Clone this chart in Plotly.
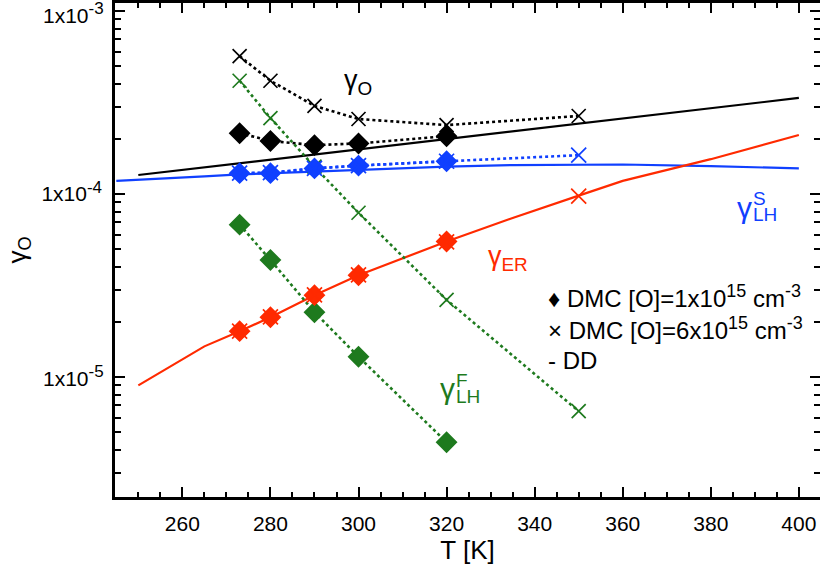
import plotly.graph_objects as go

# ---------------- data ----------------
T_dmc1 = [273, 280, 290, 300, 320]
T_dmc6 = [273, 280, 290, 300, 320, 350]
T_dd = [250, 265, 273, 280, 290, 300, 320, 335, 350, 360, 380, 400]
T_dd_blue = [245, 250, 265, 273, 280, 290, 300, 320, 335, 350, 360, 380, 400]

# gamma_O (black)
gO_dmc1 = [2.15e-4, 1.95e-4, 1.85e-4, 1.89e-4, 2.07e-4]
gO_dmc6 = [5.67e-4, 4.16e-4, 3.03e-4, 2.57e-4, 2.38e-4, 2.67e-4]
gO_dd = [1.27e-4, 1.40e-4, 1.48e-4, 1.54e-4, 1.65e-4, 1.75e-4, 2.0e-4, 2.2e-4, 2.42e-4, 2.58e-4, 2.94e-4, 3.35e-4]

# gamma_LH^F (green)
gF_dmc1 = [6.8e-5, 4.36e-5, 2.26e-5, 1.29e-5, 4.4e-6]
gF_dmc6 = [4.16e-4, 2.6e-4, 1.41e-4, 7.9e-5, 2.64e-5, 6.5e-6]

# gamma_LH^S (blue)
gS_dmc1 = [1.30e-4, 1.30e-4, 1.38e-4, 1.43e-4, 1.51e-4]
gS_dmc6 = [1.30e-4, 1.31e-4, 1.38e-4, 1.43e-4, 1.51e-4, 1.63e-4]
gS_dd = [1.18e-4, 1.20e-4, 1.25e-4, 1.28e-4, 1.30e-4, 1.33e-4, 1.36e-4, 1.41e-4, 1.44e-4, 1.45e-4, 1.45e-4, 1.42e-4, 1.38e-4]

# gamma_ER (red)
gER_dmc1 = [1.78e-5, 2.12e-5, 2.8e-5, 3.6e-5, 5.5e-5]
gER_dmc6 = [1.78e-5, 2.13e-5, 2.81e-5, 3.61e-5, 5.47e-5, 9.75e-5]
gER_dd = [9.0e-6, 1.47e-5, 1.78e-5, 2.12e-5, 2.8e-5, 3.6e-5, 5.5e-5, 7.4e-5, 9.8e-5, 1.18e-4, 1.55e-4, 2.1e-4]

x_ticks = [260, 280, 300, 320, 340, 360, 380, 400]
y_major = [1e-5, 1e-4, 1e-3]
y_exp = ["-5", "-4", "-3"]

BLACK = "#000000"
GREEN = "#1e7a1e"
BLUE = "#1040ff"
RED = "#ff2a00"
FONT = "Liberation Sans, Arial, Helvetica, sans-serif"

def sup(s, px_size):
    return f"<sup><span style='font-size:{px_size}px'>{s}</span></sup>"

y_major_text = ["1x10" + sup(e, 17) for e in y_exp]

fig = go.Figure()

def dd(x, y, c):
    fig.add_trace(go.Scatter(x=x, y=y, mode="lines", line=dict(color=c, width=2.2),
                             showlegend=False, hoverinfo="skip"))

def dmc(x, y, c, sym, size, dotted=True):
    fig.add_trace(go.Scatter(
        x=x, y=y, mode="lines+markers" if dotted else "markers",
        line=dict(color=c, width=2.6, dash="dot"),
        marker=dict(symbol=sym, size=size, color=c,
                    line=dict(color=c, width=1.7)),
        showlegend=False, hoverinfo="skip"))

# DD lines
dd(T_dd, gO_dd, BLACK)
dd(T_dd_blue, gS_dd, BLUE)
dd(T_dd, gER_dd, RED)

# DMC series: diamonds first, crosses on top
dmc(T_dmc1, gO_dmc1, BLACK, "diamond", 15)
dmc(T_dmc6, gO_dmc6, BLACK, "x-thin-open", 14)
dmc(T_dmc1, gF_dmc1, GREEN, "diamond", 15)
dmc(T_dmc6, gF_dmc6, GREEN, "x-thin-open", 14)
dmc(T_dmc1, gS_dmc1, BLUE, "diamond", 15)
dmc(T_dmc6, gS_dmc6, BLUE, "x-thin-open", 15)
dmc(T_dmc1, gER_dmc1, RED, "diamond", 15, dotted=False)
dmc(T_dmc6, gER_dmc6, RED, "x-thin-open", 15, dotted=False)

# invisible anchor trace for the right-hand tick axis
fig.add_trace(go.Scatter(x=T_dd[:1], y=gO_dd[:1], yaxis="y2", mode="markers",
                         marker=dict(opacity=0), showlegend=False, hoverinfo="skip"))

# minor tick positions (log axis)
y_minor = [m * 10.0 ** e for e in (-6, -5, -4) for m in range(2, 10)]
x_minor = list(range(250, 405, 5))

tickfont = dict(family=FONT, size=21, color="black")
Y_RANGE = [-5.656, -2.956]

fig.update_xaxes(range=[244.7, 404.8], tickmode="array", tickvals=x_ticks,
                 ticktext=[str(v) for v in x_ticks],
                 showline=True, linecolor="black", linewidth=2.5, mirror="ticks",
                 ticks="inside", tickcolor="black", tickwidth=2, ticklen=10,
                 showgrid=False, zeroline=False, ticklabelstandoff=6, tickfont=tickfont,
                 minor=dict(tickmode="array", tickvals=x_minor, ticks="inside",
                            ticklen=5, tickwidth=1.5, tickcolor="black", showgrid=False),
                 title=dict(text="T [K]", font=dict(family=FONT, size=26, color="black"),
                            standoff=6))

yminor = dict(tickmode="array", tickvals=y_minor, ticks="inside",
              ticklen=6, tickwidth=1.5, tickcolor="black", showgrid=False)

fig.update_layout(
    yaxis=dict(type="log", range=Y_RANGE, tickmode="array", tickvals=y_major,
               ticktext=["", y_major_text[1], ""],
               showline=True, linecolor="black", linewidth=2.5, mirror=False,
               ticks="inside", tickcolor="black", tickwidth=2, ticklen=10,
               showgrid=False, zeroline=False, ticklabelstandoff=6, tickfont=tickfont,
               minor=yminor,
               title=dict(text="γ<sub>O</sub>", font=dict(family=FONT, size=26, color="black"),
                          standoff=8)),
    yaxis2=dict(type="log", range=Y_RANGE, overlaying="y", side="right",
                tickmode="array", tickvals=y_major, showticklabels=False,
                showline=False, ticks="inside", tickcolor="black", tickwidth=2, ticklen=10,
                showgrid=False, zeroline=False, minor=yminor),
)

def ann(x, y, text, color, size, xanchor="center", yanchor="middle"):
    fig.add_annotation(x=x, y=y, xref="paper", yref="paper", text=text, showarrow=False,
                       font=dict(family=FONT, size=size, color=color),
                       xanchor=xanchor, yanchor=yanchor)

W, H = 820, 567
L, R, TOP, B = 115, 0, 3, 70
pw, ph = W - L - R, H - TOP - B

def px(xp, yp):
    return (xp - L) / pw, 1 - (yp - TOP) / ph

# y tick labels near the axis ends (drawn as annotations so they are not dropped)
ann(*px(106, 13), y_major_text[2], BLACK, 21, xanchor="right")
ann(*px(106, 376), y_major_text[0], BLACK, 21, xanchor="right")

# curve labels
ann(*px(358, 82), "γ<sub>O</sub>", BLACK, 27)
ann(*px(508, 258), "γ<sub>ER</sub>", RED, 27)
ann(*px(744, 207), "γ", BLUE, 30)
ann(*px(751, 214), "LH", BLUE, 19, xanchor="left")
ann(*px(751, 198), "S", BLUE, 19, xanchor="left")
ann(*px(447, 388), "γ", GREEN, 30)
ann(*px(454, 396), "LH", GREEN, 19, xanchor="left")
ann(*px(454, 380), "F", GREEN, 19, xanchor="left")

# legend text
ann(*px(546, 296), "♦ DMC [O]=1x10" + sup("15", 18) + " cm" + sup("-3", 18), BLACK, 24, xanchor="left")
ann(*px(546, 328), "× DMC [O]=6x10" + sup("15", 18) + " cm" + sup("-3", 18), BLACK, 24, xanchor="left")
ann(*px(546, 360), "- DD", BLACK, 24, xanchor="left")

fig.update_layout(width=W, height=H, margin=dict(l=L, r=R, t=TOP, b=B),
                  paper_bgcolor="white", plot_bgcolor="white",
                  font=dict(family=FONT, color="black"), showlegend=False)

fig.write_html("out.html")
